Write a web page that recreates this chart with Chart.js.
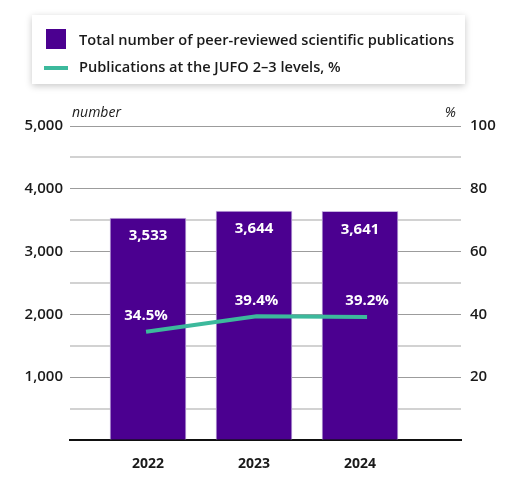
<!DOCTYPE html>
<html>
<head>
<meta charset="utf-8">
<script src="https://cdn.jsdelivr.net/npm/chart.js@4"></script>
<style>
  body { margin: 0; background: #fff; font-family: 'Open Sans', sans-serif; }
  #wrap { position: relative; width: 519px; height: 483px; }
  #legend {
    position: absolute; left: 32px; top: 15px; width: 433px; height: 69px;
    background: #fff; box-shadow: 0 2px 7px rgba(0,0,0,0.22);
    font-size: 14.6px; font-weight: 600; color: #1a1a1a;
  }
  .item { position: absolute; left: 47px; white-space: nowrap; }
  .box { position: absolute; left: 14px; top: 14px; width: 20px; height: 20px; background: #4b0090; }
  .ln { position: absolute; left: 12px; top: 51px; width: 24px; height: 4px; background: #3cb99c; }
</style>
</head>
<body>
<div id="wrap">
  <canvas id="chart" width="519" height="483"></canvas>
  <div id="legend">
    <div class="box"></div>
    <div class="item" style="top:14px">Total number of peer-reviewed scientific publications</div>
    <div class="ln"></div>
    <div class="item" style="top:41px">Publications at the JUFO 2–3 levels, %</div>
  </div>
</div>
<script>
const years = ['2022', '2023', '2024'];
const totalPublications = [3533, 3644, 3641];
const jufoShare = [34.5, 39.4, 39.2];

Chart.defaults.font.family = "'Open Sans', sans-serif";
Chart.defaults.color = '#1a1a1a';

const valueLabels = {
  id: 'valueLabels',
  afterDatasetsDraw(chart) {
    const ctx = chart.ctx;
    ctx.save();
    ctx.fillStyle = '#fff';
    ctx.font = "bold 15px 'Open Sans'";
    ctx.textAlign = 'center';
    ctx.textBaseline = 'middle';
    chart.getDatasetMeta(1).data.forEach((el, i) => {
      ctx.fillText(totalPublications[i].toLocaleString('en-US'), el.x, el.y + 18);
    });
    chart.getDatasetMeta(0).data.forEach((el, i) => {
      ctx.fillText(jufoShare[i].toFixed(1) + '%', el.x, el.y - 16);
    });
    // axis unit captions
    const a = chart.chartArea;
    ctx.fillStyle = '#1a1a1a';
    ctx.font = "italic 14px 'Open Sans'";
    ctx.textBaseline = 'alphabetic';
    ctx.textAlign = 'left';
    ctx.fillText('number', a.left + 2, a.top - 9);
    ctx.textAlign = 'right';
    ctx.fillText('%', a.right - 5, a.top - 9);
    ctx.restore();
  }
};

new Chart(document.getElementById('chart'), {
  data: {
    datasets: [{
      type: 'line',
      label: 'Publications at the JUFO 2–3 levels, %',
      data: jufoShare.map((v, i) => ({ x: i, y: v })),
      xAxisID: 'x2',
      yAxisID: 'y1',
      borderColor: '#3cb99c',
      borderWidth: 4,
      pointRadius: 0,
      tension: 0,
      order: 0
    }, {
      type: 'bar',
      label: 'Total number of peer-reviewed scientific publications',
      data: totalPublications.map((v, i) => ({ x: i, y: v })),
      xAxisID: 'x',
      yAxisID: 'y',
      backgroundColor: '#4b0090',
      borderColor: '#c7b5e0',
      borderWidth: 1,
      grouped: false,
      barThickness: 76,
      order: 1
    }]
  },
  options: {
    responsive: false,
    devicePixelRatio: 1,
    animation: false,
    layout: { padding: { top: 126 } },
    plugins: { legend: { display: false }, tooltip: { enabled: false } },
    scales: {
      x: {
        type: 'linear',
        offset: false,
        min: -0.736,
        max: 2.953,
        afterBuildTicks: s => { s.ticks = years.map((_, i) => ({ value: i })); },
        afterFit: s => { s.height = 43; },
        grid: { display: false },
        border: { color: '#111', width: 2 },
        ticks: {
          padding: 8,
          font: { size: 14, weight: 'bold' },
          callback: v => years[v]
        }
      },
      x2: {
        type: 'linear',
        display: false,
        offset: false,
        min: -0.688,
        max: 2.85
      },
      y: {
        position: 'left',
        min: 0,
        max: 5000,
        afterFit: s => { s.width = 70; },
        border: { display: false },
        grid: {
          drawTicks: false,
          color: c => c.tick.value === 0 ? 'rgba(0,0,0,0)' : (c.tick.value % 1000 === 0 ? '#9c9c9c' : '#d2d2d2'),
          lineWidth: c => c.tick.value % 1000 === 0 ? 1 : 2
        },
        ticks: {
          stepSize: 500,
          padding: 7,
          font: { size: 15, weight: 600 },
          callback: v => (v > 0 && v % 1000 === 0) ? v.toLocaleString('en-US') : ''
        }
      },
      y1: {
        position: 'right',
        min: 0,
        max: 100,
        afterFit: s => { s.width = 58; },
        border: { display: false },
        grid: { drawOnChartArea: false, drawTicks: false },
        ticks: {
          stepSize: 20,
          padding: 9,
          font: { size: 15, weight: 600 },
          callback: v => v > 0 ? v : ''
        }
      }
    }
  },
  plugins: [valueLabels]
});
</script>
</body>
</html>
